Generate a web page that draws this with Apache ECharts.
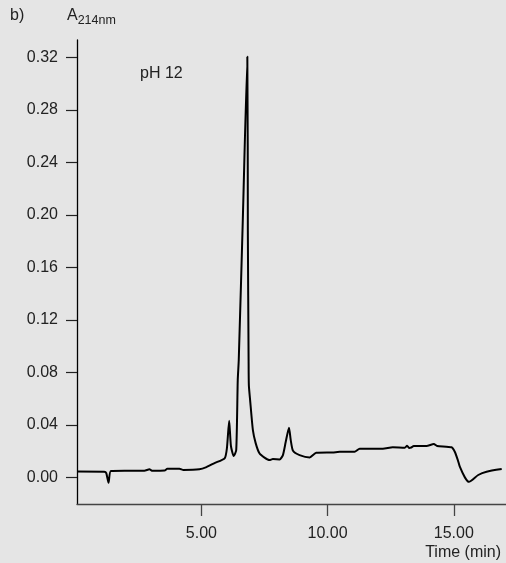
<!DOCTYPE html>
<html>
<head>
<meta charset="utf-8">
<script src="https://cdn.jsdelivr.net/npm/echarts@6.0.0/dist/echarts.min.js"></script>
<style>
  html, body { margin: 0; padding: 0; background: #e5e5e5; }
  #chart { width: 506px; height: 563px; }
</style>
</head>
<body>
<div id="chart"></div>
<script>
// time (min)
const timeMin = [
  0.08, 1.15, 1.23, 1.32, 1.41, 1.95, 2.74, 2.94, 3.06, 3.54,
  3.65, 4.13, 4.29, 4.92, 5.20, 5.52, 5.92, 6.01, 6.10, 6.17,
  6.28, 6.38, 6.44, 6.48, 6.64, 6.82, 6.84, 6.87, 6.88, 6.93,
  7.04, 7.15, 7.30, 7.50, 7.70, 7.83, 8.10, 8.23, 8.34, 8.47,
  8.54, 8.63, 8.89, 9.29, 9.55, 10.20, 10.48, 11.07, 11.27, 12.19,
  12.58, 13.06, 13.15, 13.24, 13.30, 13.42, 13.92, 14.21, 14.34, 14.91,
  15.04, 15.16, 15.24, 15.44, 15.60, 15.97, 16.30, 16.90
]
// absorbance at 214 nm
const absorbance = [
  0.0044, 0.0043, 0.0033, -0.0041, 0.0048, 0.0050, 0.0050, 0.0061, 0.0050, 0.0052,
  0.0066, 0.0066, 0.0056, 0.0061, 0.0078, 0.0109, 0.0145, 0.0221, 0.0431, 0.0239,
  0.0162, 0.0208, 0.0741, 0.0894, 0.1960, 0.3205, 0.1880, 0.0894, 0.0703, 0.0589,
  0.0360, 0.0261, 0.0183, 0.0151, 0.0132, 0.0139, 0.0137, 0.0170, 0.0269, 0.0378,
  0.0284, 0.0203, 0.0170, 0.0152, 0.0187, 0.0190, 0.0195, 0.0195, 0.0218, 0.0218,
  0.0229, 0.0226, 0.0241, 0.0223, 0.0226, 0.0239, 0.0239, 0.0254, 0.0239, 0.0229,
  0.0195, 0.0132, 0.0081, 0.0000, -0.0034, 0.0018, 0.0043, 0.0063
]
const yTicks = [0, 0.04, 0.08, 0.12, 0.16, 0.20, 0.24, 0.28, 0.32]
const xTicks = [5, 10, 15]

const font = "'Liberation Sans', Arial, sans-serif"
const chart = echarts.init(document.getElementById('chart'))

chart.setOption({
  backgroundColor: '#e5e5e5',
  animation: false,
  grid: {
    left: 77,
    top: 40,
    right: 0,
    bottom: 59,
    outerBoundsMode: 'none'
  },
  xAxis: {
    type: 'value',
    min: 0.07,
    max: 17.07,
    splitLine: { show: false },
    axisLine: { onZero: false, lineStyle: { color: '#444', width: 1.3 } },
    axisTick: {
      customValues: xTicks,
      inside: false,
      length: 12,
      lineStyle: { color: '#444', width: 1.3 }
    },
    axisLabel: {
      customValues: xTicks,
      margin: 22,
      color: '#222',
      fontSize: 16,
      fontFamily: font,
      formatter: v => v.toFixed(2)
    }
  },
  yAxis: {
    type: 'value',
    min: -0.0203,
    max: 0.3333,
    splitLine: { show: false },
    axisLine: { show: true, onZero: false, lineStyle: { color: '#000', width: 1.3 } },
    axisTick: {
      show: true,
      inside: false,
      customValues: yTicks,
      length: 11,
      lineStyle: { color: '#222', width: 1.2 }
    },
    axisLabel: {
      customValues: yTicks,
      margin: 19,
      color: '#222',
      fontSize: 16,
      fontFamily: font,
      formatter: v => v.toFixed(2)
    }
  },
  graphic: [
    {
      type: 'text', left: 10, top: 8,
      style: { text: 'b)', fontSize: 16, fontFamily: font, fill: '#222' }
    },
    {
      type: 'text', left: 67, top: 8,
      style: {
        text: '{a|A}{s|214nm}',
        fontFamily: font,
        fill: '#222',
        rich: {
          a: { fontSize: 16, fontFamily: font, fill: '#222' },
          s: { fontSize: 12.5, fontFamily: font, fill: '#222', padding: [10, 0, 0, 0] }
        }
      }
    },
    {
      type: 'text', left: 140, top: 66,
      style: { text: 'pH 12', fontSize: 16, fontFamily: font, fill: '#222' }
    },
    {
      type: 'text', right: 5, top: 545,
      style: { text: 'Time (min)', fontSize: 16, fontFamily: font, fill: '#222' }
    }
  ],
  series: [{
    type: 'line',
    data: timeMin.map((t, i) => [t, absorbance[i]]),
    showSymbol: false,
    smooth: 0.2,
    lineStyle: { color: '#000', width: 2 }
  }]
})
</script>
</body>
</html>
